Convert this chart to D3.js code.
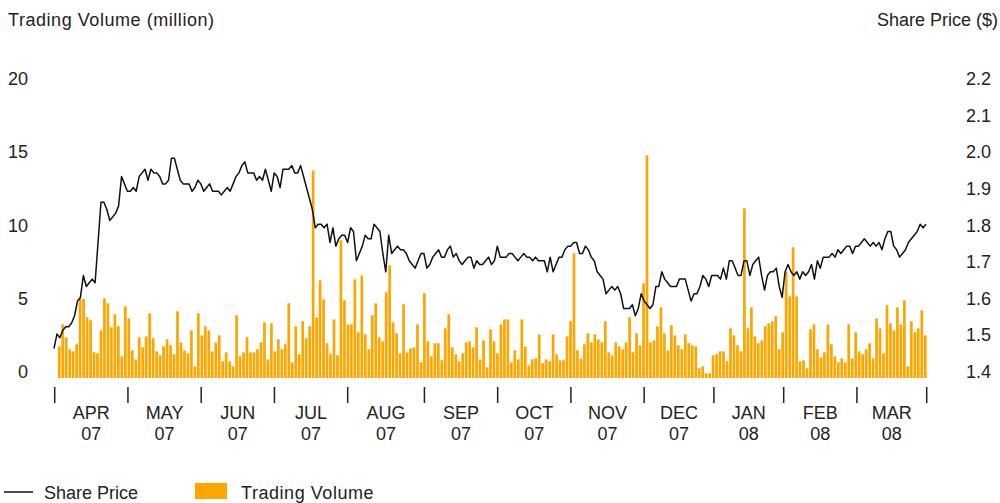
<!DOCTYPE html>
<html>
<head>
<meta charset="utf-8">
<script src="https://cdn.jsdelivr.net/npm/d3@7"></script>
<style>
  body { margin: 0; background: #fff; }
  svg text { font-family: "Liberation Sans", Arial, sans-serif; font-size: 18px; fill: #222; }
  svg text.wide { letter-spacing: 0.55px; }
</style>
</head>
<body>
<svg id="chart" width="1000" height="503"></svg>
<script>
var BAR_COLOR = "#fca600";
var LINE_COLOR = "#111";

// months on the x axis, and how many trading days each one has
var months = ["APR", "MAY", "JUN", "JUL", "AUG", "SEP", "OCT", "NOV", "DEC", "JAN", "FEB", "MAR"];
var years = ["07", "07", "07", "07", "07", "07", "07", "07", "07", "08", "08", "08"];
var daysPerMonth = [21, 21, 21, 21, 22, 21, 21, 21, 20, 20, 21, 20];

var volumeTicks = [0, 5, 10, 15, 20];
var priceTicks = [1.4, 1.5, 1.6, 1.7, 1.8, 1.9, 2.0, 2.1, 2.2];

// daily trading volume (million), one value per trading day
var volume = [
  // apr
  2.16, 3.66, 2.78, 1.96, 1.82, 2.3, 5.4, 5.4, 4.14, 3.94, 1.75, 1.68, 3.25, 5.44, 5.1, 3.46, 4.35, 3.53, 1.48, 4.89, 4.07,
  // may
  1.89, 1.27, 2.78, 2.09, 2.84, 4.41, 2.71, 1.82, 1.55, 2.16, 2.64, 2.23, 1.62, 4.55, 2.43, 1.89, 1.68, 3.25, 0.8, 4.41, 2.91,
  // jun
  3.53, 3.25, 1.82, 2.43, 2.91, 1.14, 1.75, 1.14, 0.8, 4.28, 1.48, 1.75, 2.78, 1.75, 1.75, 1.96, 2.43, 3.8, 1.27, 3.73, 1.82,
  // jul
  2.64, 1.96, 2.3, 5.1, 1.07, 3.53, 1.62, 3.87, 2.71, 3.53, 14.17, 4.14, 6.67, 5.37, 2.37, 1.62, 4.0, 1.55, 9.4, 5.3, 3.66,
  // aug
  3.66, 6.73, 3.12, 7.0, 2.98, 1.96, 4.28, 5.1, 2.78, 2.5, 5.85, 7.69, 3.8, 3.05, 1.68, 5.03, 1.75, 2.03, 2.09, 3.66, 1.07, 5.78,
  // sep
  2.5, 1.48, 2.37, 2.37, 1.21, 3.39, 4.35, 2.09, 1.62, 1.14, 1.68, 2.43, 2.5, 2.09, 3.46, 1.27, 2.57, 0.73, 3.32, 2.5, 1.68,
  // oct
  3.66, 4.0, 4.0, 1.07, 1.89, 1.27, 4.0, 2.16, 0.86, 1.27, 1.34, 2.98, 1.0, 1.27, 1.14, 2.98, 1.62, 1.21, 1.21, 2.84, 3.87,
  // nov
  8.51, 1.89, 1.34, 2.3, 3.05, 2.43, 2.98, 2.64, 2.43, 3.87, 1.75, 1.55, 2.43, 2.16, 1.96, 2.43, 4.14, 1.75, 3.05, 2.23, 6.46,
  // dec
  15.2, 2.43, 2.57, 3.53, 4.82, 3.05, 1.89, 3.6, 2.91, 2.23, 1.96, 2.98, 2.37, 2.23, 2.16, 0.66, 0.8, 0.32, 0.32, 1.55,
  // jan
  1.62, 1.82, 1.82, 1.14, 3.39, 2.91, 2.23, 1.82, 11.58, 3.39, 4.82, 2.84, 2.37, 2.57, 3.53, 3.73, 3.87, 4.21, 1.96, 3.12,
  // feb
  7.28, 5.57, 8.92, 5.57, 1.14, 1.21, 0.66, 3.32, 3.66, 1.96, 1.41, 1.75, 3.66, 2.3, 1.48, 1.07, 1.34, 1.07, 3.66, 1.34, 3.12,
  // mar
  1.82, 1.62, 1.96, 2.37, 1.34, 4.07, 3.39, 1.68, 4.96, 3.73, 3.25, 4.82, 3.66, 5.3, 0.8, 3.87, 3.12, 3.39, 4.62, 2.91
];

// share price ($)
var price = [
  1.48, 1.52, 1.51, 1.53, 1.54, 1.54, 1.55, 1.57, 1.61, 1.62,
  1.68, 1.65, 1.66, 1.67, 1.66, 1.77, 1.88, 1.88, 1.86, 1.83,
  1.84, 1.85, 1.87, 1.95, 1.93, 1.91, 1.91, 1.92, 1.91, 1.95,
  1.96, 1.97, 1.94, 1.97, 1.96, 1.96, 1.95, 1.93, 1.93, 1.94,
  2.00, 2.00, 1.97, 1.94, 1.93, 1.93, 1.93, 1.91, 1.92, 1.94,
  1.93, 1.91, 1.92, 1.93, 1.91, 1.91, 1.91, 1.90, 1.91, 1.92,
  1.91, 1.93, 1.95, 1.96, 1.98, 1.99, 1.96, 1.96, 1.96, 1.94,
  1.95, 1.94, 1.97, 1.94, 1.91, 1.96, 1.95, 1.92, 1.97, 1.97,
  1.97,
  1.98, 1.96, 1.96, 1.98, 1.95, 1.92, 1.89, 1.86, 1.81, 1.82,
  1.82, 1.81, 1.82, 1.77, 1.81, 1.76, 1.78, 1.79, 1.79, 1.77,
  1.81, 1.80, 1.72, 1.74, 1.76, 1.79, 1.78, 1.78, 1.82, 1.81,
  1.80, 1.74, 1.69, 1.79, 1.74, 1.75, 1.76, 1.75, 1.75, 1.74,
  1.72, 1.71, 1.70, 1.72, 1.74, 1.74, 1.70, 1.71, 1.73, 1.74,
  1.75, 1.73, 1.73, 1.75, 1.76, 1.73, 1.74, 1.72, 1.71, 1.72,
  1.73, 1.73, 1.70, 1.72, 1.71, 1.71, 1.72, 1.73, 1.71, 1.72,
  1.76, 1.73, 1.73, 1.73, 1.74, 1.74, 1.73, 1.72, 1.73,
  1.74, 1.73, 1.73, 1.72, 1.73, 1.72, 1.72, 1.72, 1.69, 1.73,
  1.69, 1.71, 1.73, 1.73, 1.75, 1.76, 1.76, 1.77, 1.77, 1.74,
  1.74, 1.76, 1.75, 1.73, 1.72, 1.69, 1.68, 1.67, 1.63, 1.64,
  1.65, 1.64, 1.65, 1.63, 1.59, 1.59, 1.59, 1.60, 1.57, 1.59,
  1.63, 1.61, 1.60, 1.59, 1.60, 1.65, 1.65, 1.69, 1.67, 1.66,
  1.65, 1.65, 1.65, 1.67, 1.67, 1.67, 1.64, 1.61, 1.63, 1.63,
  1.65, 1.68, 1.67, 1.65, 1.68, 1.68, 1.68, 1.67, 1.70, 1.67,
  1.72, 1.72, 1.70, 1.68, 1.68, 1.72, 1.72, 1.68,
  1.71, 1.72, 1.73, 1.68, 1.64, 1.68, 1.69, 1.69, 1.70, 1.65,
  1.62, 1.69, 1.71, 1.69, 1.68, 1.69, 1.67, 1.69, 1.68, 1.69,
  1.71, 1.67, 1.72, 1.70, 1.73, 1.73, 1.73, 1.74, 1.73, 1.75,
  1.74, 1.75, 1.76, 1.76, 1.74, 1.76, 1.76, 1.77, 1.78, 1.77,
  1.76, 1.77, 1.76, 1.77, 1.75, 1.78, 1.80, 1.80, 1.76, 1.75,
  1.73, 1.74, 1.75, 1.77, 1.78, 1.79, 1.80, 1.82, 1.81, 1.82
];

var svg = d3.select("#chart");

// scales
var x = d3.scaleBand()
  .domain(d3.range(volume.length))
  .range([57.5, 927])
  .paddingInner(0.22)
  .paddingOuter(0.11);

var xMonth = d3.scaleLinear().domain([0, volume.length]).range([54.7, 926.7]);
var xPrice = d3.scaleLinear().domain([0, price.length - 1]).range([54, 926]);

var yVol = d3.scaleLinear().domain([0, 20]).range([378, 85]);
var yPrice = d3.scaleLinear().domain([1.4, 2.2]).range([378, 85]);

// axis titles
svg.append("text").attr("class", "wide").attr("x", 8).attr("y", 25.5).text("Trading Volume (million)");
svg.append("text").attr("x", 998).attr("y", 25.5).attr("text-anchor", "end").text("Share Price ($)");

// left axis labels
svg.selectAll(".vtick").data(volumeTicks).enter().append("text")
  .attr("class", "vtick")
  .attr("x", 28)
  .attr("y", function(d) { return yVol(d); })
  .attr("text-anchor", "end")
  .text(function(d) { return d; });

// right axis labels
svg.selectAll(".ptick").data(priceTicks).enter().append("text")
  .attr("class", "ptick")
  .attr("x", 966)
  .attr("y", function(d) { return yPrice(d); })
  .text(function(d) { return d.toFixed(1); });

// bars
svg.append("g").selectAll("rect").data(volume).enter().append("rect")
  .attr("x", function(d, i) { return x(i); })
  .attr("width", x.bandwidth())
  .attr("y", function(d) { return yVol(d); })
  .attr("height", function(d) { return yVol(0) - yVol(d); })
  .attr("fill", BAR_COLOR);

// price line
var line = d3.line()
  .x(function(d, i) { return xPrice(i); })
  .y(function(d) { return yPrice(d); });

svg.append("path")
  .datum(price)
  .attr("d", line)
  .attr("fill", "none")
  .attr("stroke", LINE_COLOR)
  .attr("stroke-width", 1.5)
  .attr("stroke-linejoin", "round");

// month ticks and labels
var bounds = [0];
daysPerMonth.forEach(function(n) { bounds.push(bounds[bounds.length - 1] + n); });

svg.append("g").selectAll("line").data(bounds).enter().append("line")
  .attr("x1", function(d) { return xMonth(d); })
  .attr("x2", function(d) { return xMonth(d); })
  .attr("y1", 387)
  .attr("y2", 403)
  .attr("stroke", "#222")
  .attr("stroke-width", 1.5);

var labels = svg.append("g").selectAll("g").data(months).enter().append("g");
labels.append("text")
  .attr("x", function(d, i) { return (xMonth(bounds[i]) + xMonth(bounds[i + 1])) / 2; })
  .attr("y", 419)
  .attr("text-anchor", "middle")
  .text(function(d) { return d; });
labels.append("text")
  .attr("x", function(d, i) { return (xMonth(bounds[i]) + xMonth(bounds[i + 1])) / 2; })
  .attr("y", 440)
  .attr("text-anchor", "middle")
  .text(function(d, i) { return years[i]; });

// legend
svg.append("line").attr("x1", 4).attr("x2", 33).attr("y1", 492).attr("y2", 492)
  .attr("stroke", LINE_COLOR).attr("stroke-width", 1.5);
svg.append("text").attr("x", 44).attr("y", 498.5).text("Share Price");
svg.append("rect").attr("x", 195).attr("y", 483).attr("width", 32).attr("height", 16).attr("fill", BAR_COLOR);
svg.append("text").attr("class", "wide").attr("x", 241).attr("y", 498.5).text("Trading Volume");
</script>
</body>
</html>
